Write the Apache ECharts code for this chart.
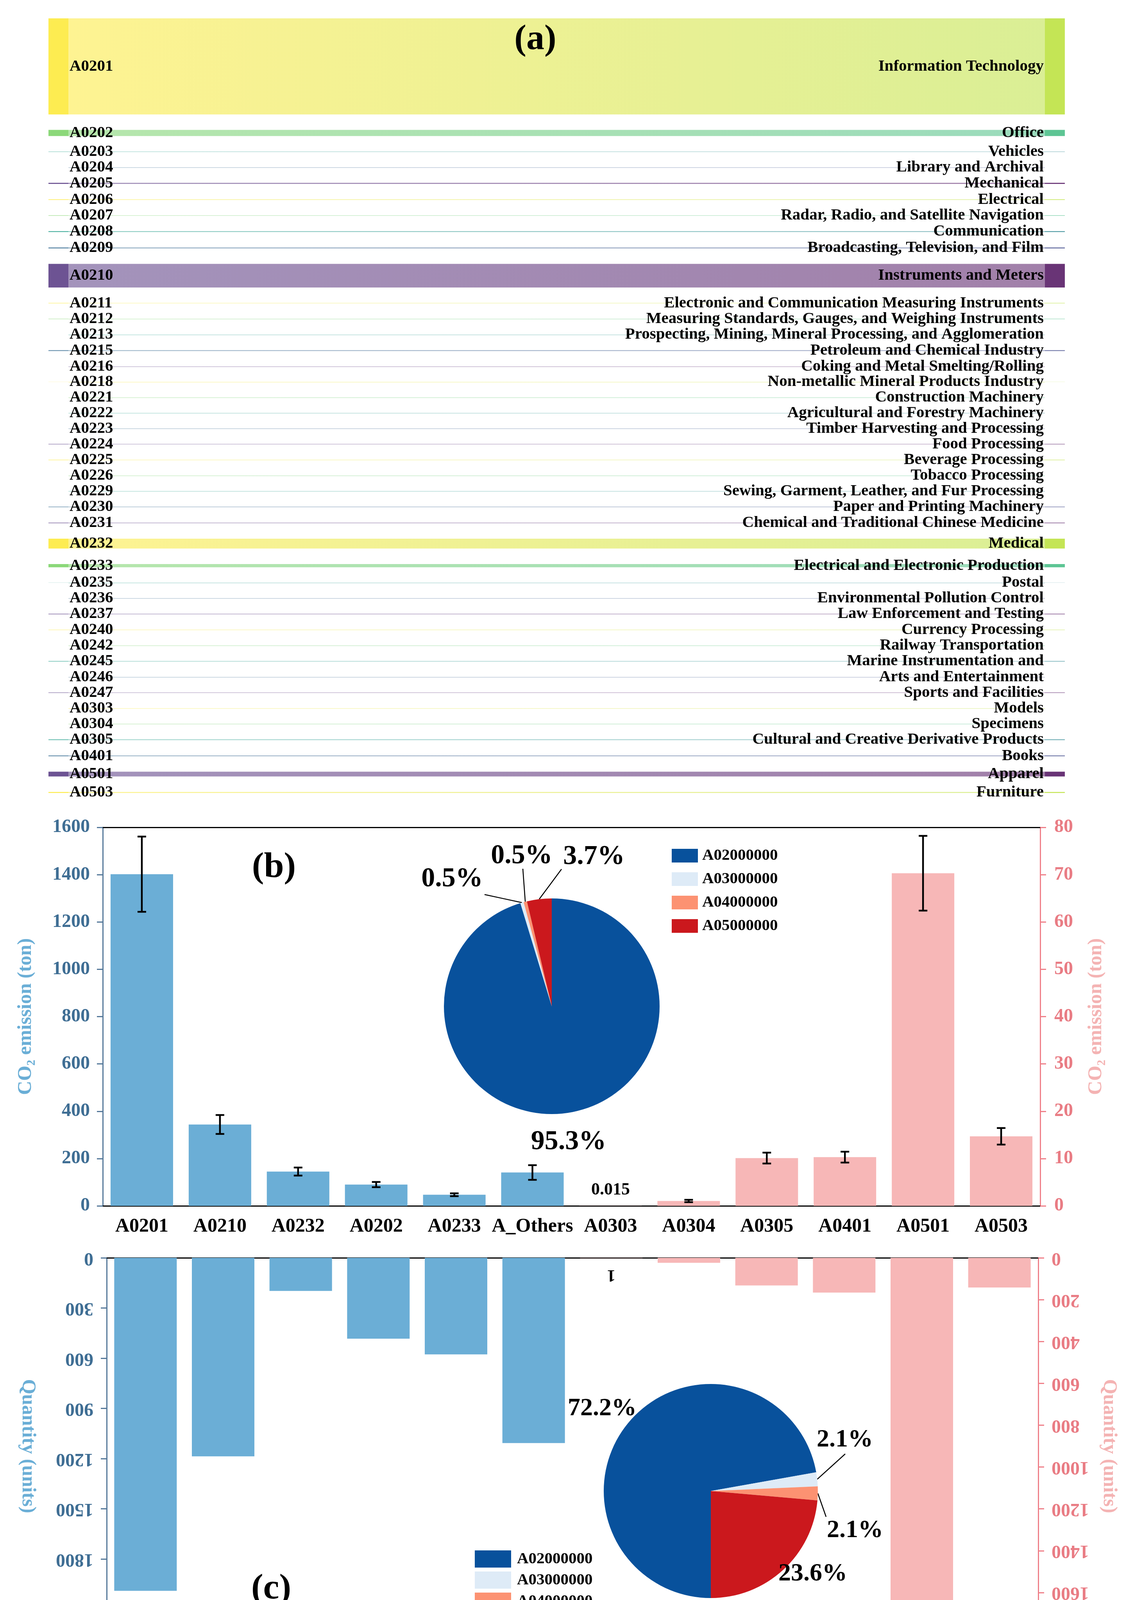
<!DOCTYPE html>
<html><head><meta charset="utf-8">
<script src="https://cdn.jsdelivr.net/npm/echarts@6/dist/echarts.min.js"></script>
<style>html,body{margin:0;padding:0;background:#fff}#c{width:2902px;height:4255px}</style>
</head><body><div id="c"></div>
<script>
// ---------------- DATA ----------------
const sankeyCodes = ['A0201','A0202','A0203','A0204','A0205','A0206','A0207','A0208','A0209','A0210','A0211','A0212','A0213','A0215','A0216','A0218','A0221','A0222','A0223','A0224','A0225','A0226','A0229','A0230','A0231','A0232','A0233','A0235','A0236','A0237','A0240','A0242','A0245','A0246','A0247','A0303','A0304','A0305','A0401','A0501','A0503'];
const sankeyNames = ['Information Technology','Office','Vehicles','Library and Archival','Mechanical','Electrical','Radar, Radio, and Satellite Navigation','Communication','Broadcasting, Television, and Film','Instruments and Meters','Electronic and Communication Measuring Instruments','Measuring Standards, Gauges, and Weighing Instruments','Prospecting, Mining, Mineral Processing, and Agglomeration','Petroleum and Chemical Industry','Coking and Metal Smelting/Rolling','Non-metallic Mineral Products Industry','Construction Machinery','Agricultural and Forestry Machinery','Timber Harvesting and Processing','Food Processing','Beverage Processing','Tobacco Processing','Sewing, Garment, Leather, and Fur Processing','Paper and Printing Machinery','Chemical and Traditional Chinese Medicine','Medical','Electrical and Electronic Production','Postal','Environmental Pollution Control','Law Enforcement and Testing','Currency Processing','Railway Transportation','Marine Instrumentation and','Arts and Entertainment','Sports and Facilities','Models','Specimens','Cultural and Creative Derivative Products','Books','Apparel','Furniture'];
const sankeyValues = [1402,90,5,0.5,15,8,5,12,14,344,6,5,1,12,0.5,0.5,0.5,0.5,0.5,5,5,0.5,0.5,8,8,145,47,0.5,0.5,7,5,0.5,8,0.5,5,0.015,1.03,10.1,10.3,70.3,14.7];

const categories = ['A0201','A0210','A0232','A0202','A0233','A_Others','A0303','A0304','A0305','A0401','A0501','A0503'];
const co2Left  = [1402, 344, 145, 90, 47, 141];          // ton, left axis (A02 groups)
const co2LeftErr = [159, 40, 17, 11, 6, 31];
const co2Right = [0.015, 1.03, 10.1, 10.3, 70.3, 14.7];  // ton, right axis
const co2RightErr = [0, 0.25, 1.15, 1.15, 7.9, 1.75];
const qtyLeft  = [1990, 1186, 198, 483, 577, 1107];      // units, left axis
const qtyRight = [1, 24, 132, 166, 1666, 142];           // units, right axis
const labeledCategory = 'A0303';

const pieNames = ['A02000000','A03000000','A04000000','A05000000'];
const co2Share = [95.3, 0.5, 0.5, 3.7];
const qtyShare = [72.2, 2.1, 2.1, 23.6];

const leftTicksCO2 = {min:0, max:1600, interval:200};
const rightTicksCO2 = {min:0, max:80, interval:10};
const leftTicksQty = {min:0, max:2250, interval:300};
const rightTicksQty = {min:0, max:1800, interval:200};

// ---------------- STYLE ----------------
const FONT = '"Liberation Serif","Times New Roman",serif';
const viridis = ['#fde725','#b5de2b','#6ece58','#35b779','#1f9e89','#26828e','#31688e','#3e4989','#482878','#440154'];
const pieColors = ['#08519c','#deebf7','#fc9272','#cb181d'];
const blueBar = '#6baed6', pinkBar = '#f7b7b7';
const blueAxis = '#55799a', blueTick = '#3f6e94', blueName = '#6aaed6';
const pinkAxis = '#ef8089', pinkTick = '#e97c84', pinkName = '#f4b3b3';

// ---------------- BUILD ----------------
const nodes = [];
sankeyCodes.forEach((c, i) => {
  nodes.push({name: c, itemStyle: {color: viridis[(2*i) % 10]}});
  nodes.push({name: sankeyNames[i], itemStyle: {color: viridis[(2*i+1) % 10]}});
});
const links = sankeyCodes.map((c, i) => ({source: c, target: sankeyNames[i], value: sankeyValues[i]}));

const nL = co2Left.length;
function padLeft(arr){ return arr.concat(new Array(categories.length - arr.length).fill('-')); }
function padRight(arr){ return new Array(categories.length - arr.length).fill('-').concat(arr); }
function withLabels(arr, rot, offset){
  return arr.map((v, i) => {
    if (v === '-') return v;
    if (categories[i] === labeledCategory) {
      return {value: v, label: {show: true, position: 'outside', distance: 18, formatter: '{c}', rotate: rot, offset: offset,
        fontFamily: FONT, fontWeight: 'bold', fontSize: 44, color: '#000'}};
    }
    return v;
  });
}
const errLeftData = co2Left.map((v, i) => [i, v - co2LeftErr[i], v + co2LeftErr[i]]);
const errRightData = co2Right.map((v, i) => [nL + i, v - co2RightErr[i], v + co2RightErr[i]]).filter((d, i) => co2RightErr[i] > 0);

function errRender(params, api){
  const x = api.value(0);
  const lo = api.coord([x, api.value(1)]);
  const hi = api.coord([x, api.value(2)]);
  const hw = 11, st = {stroke: '#000', lineWidth: 4.5};
  return {type: 'group', children: [
    {type: 'line', shape: {x1: lo[0], y1: lo[1], x2: hi[0], y2: hi[1]}, style: st},
    {type: 'line', shape: {x1: lo[0]-hw, y1: lo[1], x2: lo[0]+hw, y2: lo[1]}, style: st},
    {type: 'line', shape: {x1: hi[0]-hw, y1: hi[1], x2: hi[0]+hw, y2: hi[1]}, style: st}
  ]};
}

const pieLabelPos = [
  [[1455,2924,null],[1157,2251,[1240,2290]],[1335,2192,[1338,2224]],[1520,2194,[1437,2225]]],
  [[1541,3606,null],[2162,3686,[2163,3722]],[2188,3918,[2114,3883]],[2080,4029,null]]
];
function pieSeries(idx, shares, center, radius, startAngle, fontSize){
  return {
    type: 'pie', center: center, radius: radius, startAngle: startAngle, clockwise: true,
    avoidLabelOverlap: false, emphasis: {disabled: true}, z: 5,
    data: pieNames.map((n, i) => ({name: n, value: shares[i], itemStyle: {color: pieColors[i]},
      labelLine: {show: pieLabelPos[idx][i][2] !== null}})),
    label: {show: true, position: 'outside', formatter: '{c}%', fontFamily: FONT, fontWeight: 'bold', fontSize: fontSize, color: '#000'},
    labelLine: {show: true, length: 20, length2: 10, lineStyle: {color: '#000', width: 2.5}},
    labelLayout: function (p) {
      const pos = pieLabelPos[idx][p.dataIndex];
      const out = {x: pos[0], y: pos[1], align: 'center', verticalAlign: 'middle'};
      if (pos[2] && p.labelLinePoints) {
        const s = p.labelLinePoints[0];
        out.labelLinePoints = [s, [(s[0]+pos[2][0])/2, (s[1]+pos[2][1])/2], pos[2]];
      }
      return out;
    }
  };
}

const catAxisBase = {type: 'category', data: categories, boundaryGap: true};
const blackLine = {onZero: false, lineStyle: {color: '#000', width: 3}};
const tickFont = {fontFamily: FONT, fontWeight: 'bold', fontSize: 48, formatter: v => String(v)};
const nameFont = {fontFamily: FONT, fontWeight: 'bold', fontSize: 50};

const option = {
  backgroundColor: '#fff',
  animation: false,
  grid: [
    {left: 263, right: 240, top: 2118, height: 969},
    {left: 273, right: 245, top: 3220, height: 964}
  ],
  xAxis: [
    Object.assign({gridIndex: 0, position: 'bottom', axisLine: blackLine,
      axisTick: {alignWithLabel: true, length: 20, lineStyle: {color: '#000', width: 3}},
      axisLabel: {interval: 0, margin: 28, fontFamily: FONT, fontWeight: 'bold', fontSize: 50, color: '#000'}}, catAxisBase),
    Object.assign({gridIndex: 0, position: 'top', axisLine: blackLine, axisTick: {show: false}, axisLabel: {show: false}}, catAxisBase),
    Object.assign({gridIndex: 1, position: 'top', axisLine: blackLine,
      axisTick: {alignWithLabel: true, length: 20, lineStyle: {color: '#000', width: 3}}, axisLabel: {show: false}}, catAxisBase),
    Object.assign({gridIndex: 1, position: 'bottom', axisLine: blackLine, axisTick: {show: false}, axisLabel: {show: false}}, catAxisBase)
  ],
  yAxis: [
    Object.assign({gridIndex: 0, type: 'value', position: 'left',
      axisLine: {show: true, onZero: false, lineStyle: {color: blueAxis, width: 3}},
      axisTick: {show: true, length: 15, lineStyle: {color: blueAxis, width: 3}},
      axisLabel: Object.assign({color: blueTick, margin: 33}, tickFont),
      splitLine: {show: false},
      name: 'CO₂ emission (ton)', nameLocation: 'middle', nameRotate: 90, nameGap: 172,
      nameTextStyle: Object.assign({color: blueName}, nameFont)}, leftTicksCO2),
    Object.assign({gridIndex: 0, type: 'value', position: 'right',
      axisLine: {show: true, onZero: false, lineStyle: {color: pinkAxis, width: 3}},
      axisTick: {show: true, length: 15, lineStyle: {color: pinkAxis, width: 3}},
      axisLabel: Object.assign({color: pinkTick, margin: 36}, tickFont),
      splitLine: {show: false},
      name: 'CO₂ emission (ton)', nameLocation: 'middle', nameRotate: 90, nameGap: 118,
      nameTextStyle: Object.assign({color: pinkName}, nameFont)}, rightTicksCO2),
    Object.assign({gridIndex: 1, type: 'value', position: 'left', inverse: true,
      axisLine: {show: true, onZero: false, lineStyle: {color: blueAxis, width: 3}},
      axisTick: {show: true, length: 15, lineStyle: {color: blueAxis, width: 3}},
      axisLabel: Object.assign({color: blueTick, margin: 34, rotate: 180, showMaxLabel: false}, tickFont),
      splitLine: {show: false},
      name: 'Quantity (units)', nameLocation: 'middle', nameRotate: -90, nameGap: 177,
      nameTextStyle: Object.assign({color: blueName}, nameFont)}, leftTicksQty),
    Object.assign({gridIndex: 1, type: 'value', position: 'right', inverse: true,
      axisLine: {show: true, onZero: false, lineStyle: {color: pinkAxis, width: 3}},
      axisTick: {show: true, length: 15, lineStyle: {color: pinkAxis, width: 3}},
      axisLabel: Object.assign({color: pinkTick, margin: 34, rotate: 180}, tickFont),
      splitLine: {show: false},
      name: 'Quantity (units)', nameLocation: 'middle', nameRotate: -90, nameGap: 156,
      nameTextStyle: Object.assign({color: pinkName}, nameFont)}, rightTicksQty)
  ],
  legend: [
    {data: pieNames, orient: 'vertical', left: 1714, top: 2165, itemWidth: 67, itemHeight: 35, itemGap: 19,
      icon: 'rect', selectedMode: false, textStyle: {fontFamily: FONT, fontWeight: 'bold', fontSize: 41, color: '#000', padding: [0,0,0,6]}},
    {data: pieNames, orient: 'vertical', left: 1210, top: 3964, itemWidth: 93, itemHeight: 44, itemGap: 10,
      icon: 'rect', selectedMode: false, textStyle: {fontFamily: FONT, fontWeight: 'bold', fontSize: 41, color: '#000', padding: [0,0,0,10]}}
  ],
  graphic: [
    {type: 'text', x: 1370, y: 102, z: 100, style: {text: '(a)', fontFamily: FONT, fontWeight: 'bold', fontSize: 92, fill: '#000', align: 'center', verticalAlign: 'middle'}},
    {type: 'text', x: 701, y: 2221, z: 100, style: {text: '(b)', fontFamily: FONT, fontWeight: 'bold', fontSize: 92, fill: '#000', align: 'center', verticalAlign: 'middle'}},
    {type: 'text', x: 694, y: 4068, z: 100, style: {text: '(c)', fontFamily: FONT, fontWeight: 'bold', fontSize: 92, fill: '#000', align: 'center', verticalAlign: 'middle'}}
  ],
  series: [
    {
      type: 'sankey', left: 124, right: 177, top: 47, bottom: 2225,
      nodeWidth: 51, nodeGap: 39.6, layoutIterations: 0, draggable: false,
      emphasis: {disabled: true},
      itemStyle: {opacity: 0.8, borderWidth: 0},
      lineStyle: {color: 'gradient', opacity: 0.5, curveness: 0.5},
      label: {fontFamily: FONT, fontWeight: 'bold', fontSize: 41, color: '#000', distance: 3},
      levels: [{depth: 0, label: {position: 'right'}}, {depth: 1, label: {position: 'left'}}],
      data: nodes, links: links
    },
    {type: 'bar', xAxisIndex: 0, yAxisIndex: 0, data: padLeft(co2Left), barWidth: 160, barGap: '-100%', itemStyle: {color: blueBar}},
    {type: 'bar', xAxisIndex: 0, yAxisIndex: 1, data: withLabels(padRight(co2Right), 0, [0, 0]), barWidth: 160, barGap: '-100%', itemStyle: {color: pinkBar}},
    {type: 'custom', xAxisIndex: 0, yAxisIndex: 0, data: errLeftData, renderItem: errRender, encode: {x: 0, y: [1, 2]}, z: 10},
    {type: 'custom', xAxisIndex: 0, yAxisIndex: 1, data: errRightData, renderItem: errRender, encode: {x: 0, y: [1, 2]}, z: 10},
    {type: 'bar', xAxisIndex: 2, yAxisIndex: 2, data: padLeft(qtyLeft), barWidth: 160, barGap: '-100%', itemStyle: {color: blueBar}},
    {type: 'bar', xAxisIndex: 2, yAxisIndex: 3, data: withLabels(padRight(qtyRight), 180, [0, -47]), barWidth: 160, barGap: '-100%', itemStyle: {color: pinkBar}},
    pieSeries(0, co2Share, [1412, 2576], 276, 90, 70),
    pieSeries(1, qtyShare, [1819, 3817], 274, 270, 64)
  ]
};
const chart = echarts.init(document.getElementById('c'));
chart.setOption(option);
</script>
</body></html>
